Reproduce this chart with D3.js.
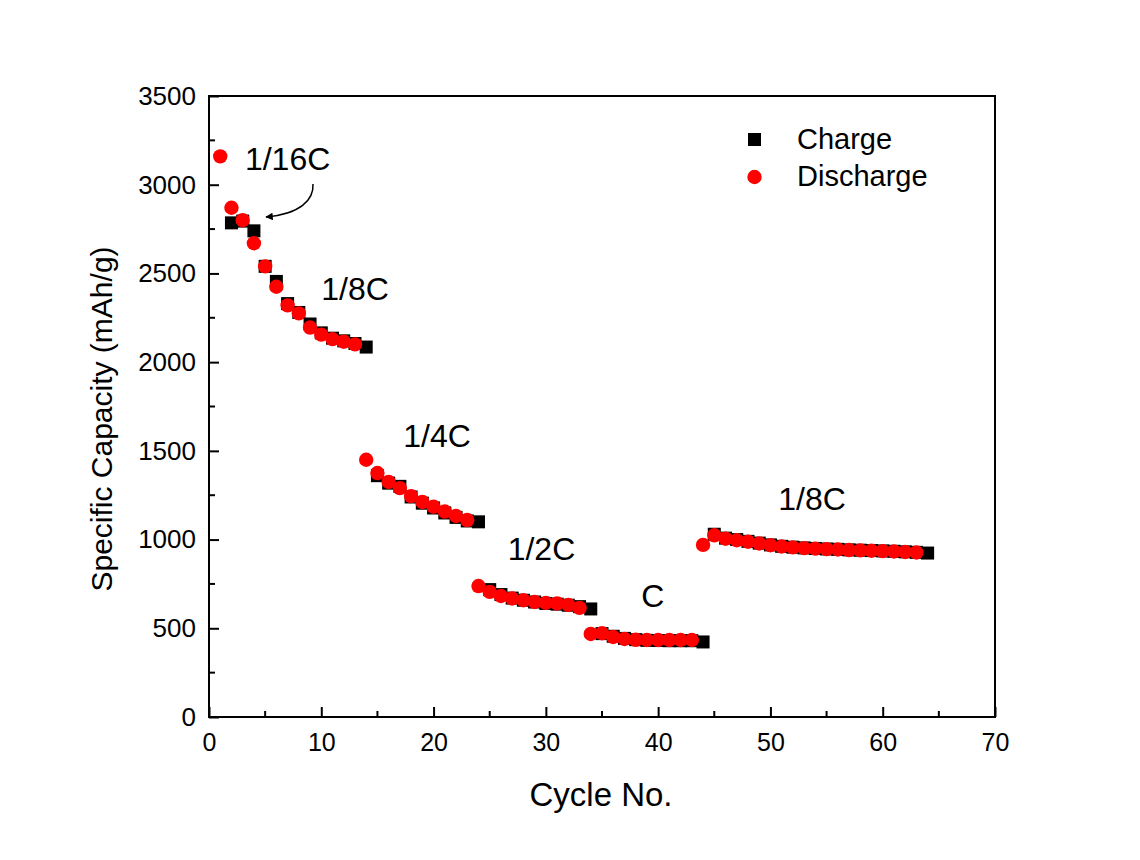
<!DOCTYPE html>
<html>
<head>
<meta charset="utf-8">
<script src="https://d3js.org/d3.v7.min.js"></script>
<style>
  body { margin: 0; background: #ffffff; }
  text { font-family: Arial, "Liberation Sans", sans-serif; fill: #000; }
</style>
</head>
<body>
<div id="chart"></div>
<script>

// data
var dischargeCycles = d3.range(1, 64);
var dischargeValues = [
  3160, 2870, 2800, 2670, 2540, 2425, 2320, 2275, 2195, 2155, 2130, 2115, 2100,
  1450, 1375, 1325, 1290, 1245, 1212, 1185, 1158, 1133, 1110,
  738, 705, 682, 668, 658, 648, 643, 640, 632, 615,
  468, 472, 451, 440, 435, 434, 434, 434, 434, 434,
  970, 1024, 1005, 996, 988, 978, 968, 961, 956, 952, 949, 946, 944, 941, 939, 937, 935, 933, 930, 927
];

var chargeCycles = d3.range(2, 65);
var chargeValues = [
  2785, 2795, 2740, 2540, 2455, 2330, 2280, 2215, 2165, 2135, 2120, 2105, 2085,
  1360, 1318, 1300, 1240, 1205, 1178, 1150, 1125, 1105, 1100,
  718, 690, 670, 658, 648, 640, 636, 630, 622, 609,
  470, 455, 443, 436, 432, 431, 430, 430, 430, 423,
  1030, 1008, 1000, 990, 980, 970, 962, 957, 953, 950, 947, 945, 942, 940, 938, 936, 934, 931, 928, 924
];

var xTicks = [0, 10, 20, 30, 40, 50, 60, 70];
var yTicks = [0, 500, 1000, 1500, 2000, 2500, 3000, 3500];

// rate labels: [text, cycle, capacity]
var rateLabels = [
  ["1/16C", 3.2, 3083],
  ["1/8C", 10.0, 2350],
  ["1/4C", 17.3, 1522],
  ["1/2C", 26.6, 885],
  ["C", 38.5, 620],
  ["1/8C", 50.7, 1167]
];

var legendNames = ["Charge", "Discharge"];

// svg size and plot box
var w_svg = 1140;
var h_svg = 860;
var pLeft = 209, pRight = 995, pTop = 96, pBottom = 717;

var svg = d3.select("#chart")
  .append("svg")
    .attr("width", w_svg)
    .attr("height", h_svg);

svg.append("rect")
  .attr("width", w_svg)
  .attr("height", h_svg)
  .attr("fill", "#ffffff");

// scales
var xScale = d3.scaleLinear().domain([0, 70]).range([pLeft, pRight]);
var yScale = d3.scaleLinear().domain([0, 3500]).range([pBottom, pTop]);

// x-axis (ticks inward)
var x_axis = d3.axisBottom(xScale).tickValues(xTicks).tickSize(-10).tickPadding(16);
var gx = svg.append("g").attr("transform", "translate(0," + pBottom + ")").call(x_axis);
gx.selectAll("text").style("font-size", "25px");

// minor x ticks
svg.append("g").selectAll("line")
  .data(d3.range(5, 70, 10))
  .enter()
  .append("line")
    .attr("x1", function(d) { return xScale(d); })
    .attr("x2", function(d) { return xScale(d); })
    .attr("y1", pBottom)
    .attr("y2", pBottom - 6)
    .attr("stroke", "#000")
    .attr("stroke-width", 2);

// y-axis (ticks inward)
var y_axis = d3.axisLeft(yScale).tickValues(yTicks).tickFormat(d3.format("d"))
  .tickSize(-10).tickPadding(13);
var gy = svg.append("g").attr("transform", "translate(" + pLeft + ",0)").call(y_axis);
gy.selectAll("text").style("font-size", "26px");

// minor y ticks
svg.append("g").selectAll("line")
  .data(d3.range(250, 3500, 500))
  .enter()
  .append("line")
    .attr("x1", pLeft)
    .attr("x2", pLeft + 6)
    .attr("y1", function(d) { return yScale(d); })
    .attr("y2", function(d) { return yScale(d); })
    .attr("stroke", "#000")
    .attr("stroke-width", 2);

svg.selectAll(".domain").remove();
svg.selectAll(".tick line").attr("stroke-width", 2);

// frame
svg.append("rect")
  .attr("x", pLeft)
  .attr("y", pTop)
  .attr("width", pRight - pLeft)
  .attr("height", pBottom - pTop)
  .attr("fill", "none")
  .attr("stroke", "#000")
  .attr("stroke-width", 2);

// axis titles
svg.append("text")
  .attr("x", 601)
  .attr("y", 806)
  .attr("text-anchor", "middle")
  .style("font-size", "33px")
  .text("Cycle No.");

svg.append("text")
  .attr("transform", "translate(112,419) rotate(-90)")
  .attr("text-anchor", "middle")
  .style("font-size", "30px")
  .text("Specific Capacity (mAh/g)");

// charge squares
var sq = 13;
svg.append("g").selectAll("rect")
  .data(d3.zip(chargeCycles, chargeValues))
  .enter()
  .append("rect")
    .attr("x", function(d) { return xScale(d[0]) - sq / 2; })
    .attr("y", function(d) { return yScale(d[1]) - sq / 2; })
    .attr("width", sq)
    .attr("height", sq)
    .attr("fill", "#000");

// discharge circles
svg.append("g").selectAll("circle")
  .data(d3.zip(dischargeCycles, dischargeValues))
  .enter()
  .append("circle")
    .attr("cx", function(d) { return xScale(d[0]); })
    .attr("cy", function(d) { return yScale(d[1]); })
    .attr("r", 7.2)
    .attr("fill", "#ff0000");

// rate labels
svg.append("g").selectAll("text")
  .data(rateLabels)
  .enter()
  .append("text")
    .attr("x", function(d) { return xScale(d[1]); })
    .attr("y", function(d) { return yScale(d[2]); })
    .style("font-size", "32px")
    .text(function(d) { return d[0]; });

// curved arrow from 1/16C label
svg.append("defs").append("marker")
  .attr("id", "head")
  .attr("viewBox", "0 0 10 10")
  .attr("refX", 9)
  .attr("refY", 5)
  .attr("markerWidth", 7)
  .attr("markerHeight", 5)
  .attr("orient", "auto")
  .append("path")
    .attr("d", "M0,0 L10,5 L0,10 Z")
    .attr("fill", "#000");

svg.append("path")
  .attr("d", "M313,184 C314,200 300,214 266,217")
  .attr("fill", "none")
  .attr("stroke", "#000")
  .attr("stroke-width", 1.5)
  .attr("marker-end", "url(#head)");

// legend
var legend = svg.append("g");
legend.append("rect")
  .attr("x", 748).attr("y", 133)
  .attr("width", 13).attr("height", 13)
  .attr("fill", "#000");
legend.append("circle")
  .attr("cx", 754.5).attr("cy", 177)
  .attr("r", 7.2)
  .attr("fill", "#ff0000");
legend.selectAll("text")
  .data(legendNames)
  .enter()
  .append("text")
    .attr("x", 797)
    .attr("y", function(d, i) { return 149 + i * 37; })
    .style("font-size", "29px")
    .text(function(d) { return d; });

</script>
</body>
</html>
